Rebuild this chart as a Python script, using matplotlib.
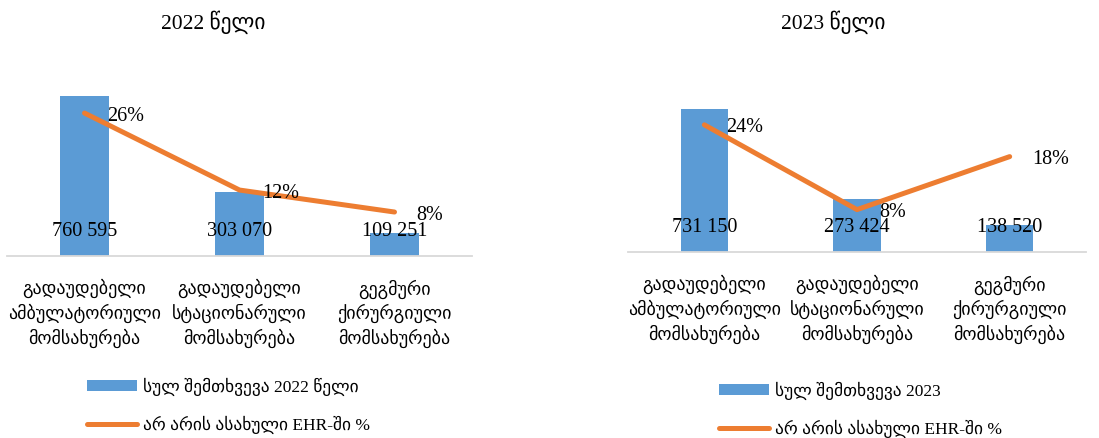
import matplotlib
matplotlib.use("Agg")
import matplotlib.pyplot as plt
from matplotlib.patches import Patch
from matplotlib.lines import Line2D

plt.rcParams["font.family"] = ["Liberation Serif", "DejaVu Sans"]

categories = [
    "გადაუდებელი\nამბულატორიული\nმომსახურება",
    "გადაუდებელი\nსტაციონარული\nმომსახურება",
    "გეგმური\nქირურგიული\nმომსახურება",
]
cases_2022 = [760595, 303070, 109251]
pct_2022 = [0.26, 0.12, 0.08]
cases_2023 = [731150, 273424, 138520]
pct_2023 = [0.24, 0.08, 0.18]

titles = ["2022 წელი", "2023 წელი"]
bar_labels = ["სულ შემთხვევა 2022 წელი", "სულ შემთხვევა 2023"]
line_label = "არ არის ასახული EHR-ში %"

BLUE = "#5B9BD5"
ORANGE = "#ED7D31"

W, H = 1099, 439
fig = plt.figure(figsize=(W / 100, H / 100), dpi=100)


def px_axes(x0, x1, top, bottom):
    return fig.add_axes([x0 / W, (H - bottom) / H, (x1 - x0) / W, (bottom - top) / H])


panels = [
    # x0, x1, top, baseline, bar ymax, pct ymax, title x, legend x, legend y
    (7, 472, 47, 257, 1000000, 0.382, 213, 87, 378, cases_2022, pct_2022),
    (628, 1086, 58, 253, 1000000, 0.368, 833, 719, 382, cases_2023, pct_2023),
]

for k, (x0, x1, top, base, ymax, pmax, tx, lx, ly, cases, pct) in enumerate(panels):
    ax = px_axes(x0, x1, top, base)
    xs = range(len(categories))
    ax.bar(xs, cases, width=0.31, color=BLUE, zorder=2)
    ax.set_xlim(-0.5, 2.5)
    ax.set_ylim(0, ymax)
    for s in ["top", "right", "left"]:
        ax.spines[s].set_visible(False)
    ax.spines["bottom"].set_color("#D9D9D9")
    ax.spines["bottom"].set_linewidth(1.3)
    ax.set_yticks([])
    ax.set_xticks(list(xs))
    ax.set_xticklabels(categories, fontsize=13, linespacing=1.36)
    ax.tick_params(axis="x", length=0, pad=16)
    for i, v in enumerate(cases):
        ax.annotate(f"{v:,}".replace(",", " "), xy=(i, 0), xytext=(0, 18),
                    textcoords="offset points", ha="center", va="center",
                    fontsize=14.5, zorder=5)

    ax2 = ax.twinx()
    ax2.plot(list(xs), pct, color=ORANGE, lw=3.6, solid_capstyle="round",
             solid_joinstyle="round", zorder=3)
    ax2.set_ylim(0, pmax)
    ax2.set_yticks([])
    for s in ax2.spines.values():
        s.set_visible(False)
    for i, p in enumerate(pct):
        ax2.annotate(f"{p:.0%}", xy=(i, p), xytext=(16, -1.5),
                     textcoords="offset points", ha="left", va="center",
                     fontsize=14.5)

    fig.text(tx / W, 1 - 22 / H, titles[k], ha="center", va="center", fontsize=15.5)

    handles = [Patch(facecolor=BLUE, edgecolor="none"),
               Line2D([], [], color=ORANGE, lw=3.6, solid_capstyle="round")]
    fig.legend(handles, [bar_labels[k], line_label], loc="upper left",
               bbox_to_anchor=(lx / W, 1 - ly / H), frameon=False, fontsize=12.5,
               borderpad=0, borderaxespad=0, handlelength=2.9, handleheight=0.6,
               handletextpad=0.3, labelspacing=1.15)

fig.savefig("out.png", dpi=100)
